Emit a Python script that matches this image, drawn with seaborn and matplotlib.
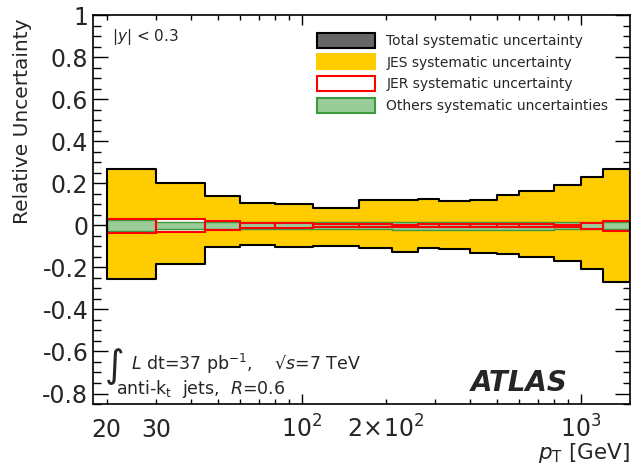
import numpy as np
import pandas as pd
import matplotlib
matplotlib.use("Agg")
import matplotlib.pyplot as plt
from matplotlib.patches import Patch
from matplotlib.ticker import FixedLocator, LogLocator, FuncFormatter, MultipleLocator
import seaborn as sns

# Jet pT bin edges [GeV]
pt_edges = [20, 30, 45, 60, 80, 110, 160, 210, 260, 310, 400, 500, 600, 800, 1000, 1200, 1500]

# Relative uncertainties per bin (upper / lower)
total_up = [0.270, 0.200, 0.138, 0.108, 0.100, 0.084, 0.119, 0.119, 0.123, 0.115, 0.119, 0.144, 0.164, 0.190, 0.229, 0.270]
total_dn = [-0.257, -0.182, -0.103, -0.096, -0.105, -0.099, -0.109, -0.127, -0.106, -0.113, -0.130, -0.138, -0.151, -0.171, -0.208, -0.270]
jes_up = [0.270, 0.200, 0.138, 0.108, 0.100, 0.084, 0.119, 0.119, 0.123, 0.115, 0.119, 0.144, 0.164, 0.190, 0.229, 0.270]
jes_dn = [-0.257, -0.182, -0.103, -0.096, -0.105, -0.099, -0.109, -0.127, -0.106, -0.113, -0.130, -0.138, -0.151, -0.171, -0.208, -0.270]
jer_up = [0.032, 0.031, 0.019, 0.012, 0.011, 0.006, 0.007, 0.003, 0.007, 0.004, 0.007, 0.004, 0.006, 0.003, 0.012, 0.022]
jer_dn = [-0.035, -0.033, -0.021, -0.014, -0.013, -0.008, -0.010, -0.006, -0.010, -0.007, -0.010, -0.007, -0.009, -0.006, -0.016, -0.025]
oth_up = [0.026, 0.017, 0.016, 0.017, 0.017, 0.016, 0.016, 0.016, 0.016, 0.016, 0.016, 0.016, 0.016, 0.016, 0.015, 0.015]
oth_dn = [-0.029, -0.019, -0.018, -0.020, -0.020, -0.020, -0.020, -0.021, -0.021, -0.021, -0.021, -0.021, -0.021, -0.020, -0.017, -0.016]

legend_labels = ["Total systematic uncertainty", "JES systematic uncertainty",
                 "JER systematic uncertainty", "Others systematic uncertainties"]

x_tick_labels = {20: "20", 30: "30", 100: r"$10^{2}$", 200: r"$2\!\times\!10^{2}$", 1000: r"$10^{3}$"}

C_TOTAL = "#666666"
C_JES = "#FFCC00"
C_JER = "#FF0000"
C_OTH = "#99CC99"
C_OTH_EDGE = "#3D9A3D"

sns.set_style("ticks")
plt.rcParams["font.family"] = ["DejaVu Sans"]
plt.rcParams["axes.unicode_minus"] = False
plt.rcParams["mathtext.fontset"] = "dejavusans"

edges = np.array(pt_edges, dtype=float)
lefts = edges[:-1]
widths = np.diff(edges)


def step_y(vals):
    return list(vals) + [vals[-1]]


fig = plt.figure(figsize=(6.32, 4.66), dpi=100)
ax = fig.add_axes([0.1476, 0.1330, 0.8492, 0.8348])
ax.set_xscale("log")

# total band underneath, JES boxes on top
ax.fill_between(edges, step_y(total_dn), step_y(total_up), step="post",
                facecolor=C_TOTAL, edgecolor="none", lw=0, zorder=1)
ax.bar(lefts, np.array(jes_up) - np.array(jes_dn), bottom=jes_dn, width=widths,
       align="edge", color=C_JES, lw=0, zorder=2)

# JER boxes (white fill), others band, then JER outlines
ax.bar(lefts, np.array(jer_up) - np.array(jer_dn), bottom=jer_dn, width=widths,
       align="edge", facecolor="white", edgecolor="none", lw=0, zorder=3)
ax.fill_between(edges, step_y(oth_dn), step_y(oth_up), step="post",
                facecolor=C_OTH, edgecolor=C_OTH_EDGE, lw=1.0, zorder=4)
ax.bar(lefts, np.array(jer_up) - np.array(jer_dn), bottom=jer_dn, width=widths,
       align="edge", facecolor="none", edgecolor=C_JER, lw=1.5, zorder=5)

# outline of the total band
xs = np.repeat(edges, 2)[1:-1]
top = pd.DataFrame({"pt": xs, "unc": np.repeat(total_up, 2)})
bot = pd.DataFrame({"pt": xs[::-1], "unc": np.repeat(total_dn, 2)[::-1]})
outline = pd.concat([top, bot, top.iloc[[0]]], ignore_index=True)
sns.lineplot(data=outline, x="pt", y="unc", sort=False, estimator=None,
             color="black", lw=1.5, ax=ax, zorder=6)

ax.set_xlim(17.9, 1500)
ax.set_ylim(-0.85, 1.0)

# axes ticks
ax.xaxis.set_major_locator(FixedLocator([100, 1000]))
ax.xaxis.set_minor_locator(LogLocator(base=10, subs=np.arange(2, 10)))
xfmt = FuncFormatter(lambda v, p: x_tick_labels.get(int(round(v)), ""))
ax.xaxis.set_major_formatter(xfmt)
ax.xaxis.set_minor_formatter(xfmt)
ax.yaxis.set_major_locator(MultipleLocator(0.2))
ax.yaxis.set_minor_locator(MultipleLocator(0.05))


def yfmt(v, p):
    v = round(v, 2)
    if abs(v) < 1e-9:
        return "0"
    return f"{v:g}"


ax.yaxis.set_major_formatter(FuncFormatter(yfmt))

ax.tick_params(axis="both", which="both", direction="in", top=True, right=True,
               color="black", width=1.0)
ax.tick_params(axis="y", which="major", length=10.8, labelsize=17, pad=3.6)
ax.tick_params(axis="y", which="minor", length=5.4)
ax.tick_params(axis="x", which="major", length=7.2, labelsize=17, pad=24)
ax.tick_params(axis="x", which="minor", length=3.6, labelsize=17, pad=24)
for t in ax.xaxis.get_major_ticks() + ax.xaxis.get_minor_ticks():
    t.label1.set_verticalalignment("baseline")

for s in ax.spines.values():
    s.set_linewidth(1.2)
    s.set_color("black")
    s.set_zorder(10)

ax.set_ylabel("Relative Uncertainty", fontsize=14.5, ha="right", va="center")
ax.yaxis.set_label_coords(-0.1328, 0.9923)
ax.set_xlabel(r"$p_{\mathrm{T}}$ [GeV]", fontsize=15.5, ha="right", va="baseline")
ax.xaxis.set_label_coords(1.0, -0.1414)

# legend
handles = [
    Patch(facecolor=C_TOTAL, edgecolor="black", lw=1.5),
    Patch(facecolor=C_JES, edgecolor=C_JES, lw=1.5),
    Patch(facecolor="white", edgecolor=C_JER, lw=1.5),
    Patch(facecolor=C_OTH, edgecolor=C_OTH_EDGE, lw=1.5),
]
ax.legend(handles, legend_labels, loc="upper left", bbox_to_anchor=(0.4163, 0.9545),
          frameon=False, fontsize=10, handlelength=4.17, handleheight=1.3,
          handletextpad=0.84, labelspacing=0.46, borderpad=0, borderaxespad=0)

# annotations
ax.text(0.034, 0.934, r"$|y|$ < 0.3", transform=ax.transAxes, fontsize=11,
        ha="left", va="baseline")
ax.text(0.0404, 0.097, "\u222b", transform=ax.transAxes, fontsize=27,
        ha="center", va="center")
ax.text(0.0702, 0.0874, "$L$ dt=37 pb$^{-1}$,    \u221a$s$=7 TeV",
        transform=ax.transAxes, fontsize=12.5, ha="left", va="baseline")
ax.text(0.0432, 0.0257, r"anti-k$_{\mathrm{t}}$  jets,  $R$=0.6", transform=ax.transAxes,
        fontsize=12.5, ha="left", va="baseline")
ax.text(0.703, 0.0334, "ATLAS", transform=ax.transAxes, fontsize=20,
        fontweight="bold", fontstyle="italic", ha="left", va="baseline")

fig.savefig("out.png", dpi=100)
